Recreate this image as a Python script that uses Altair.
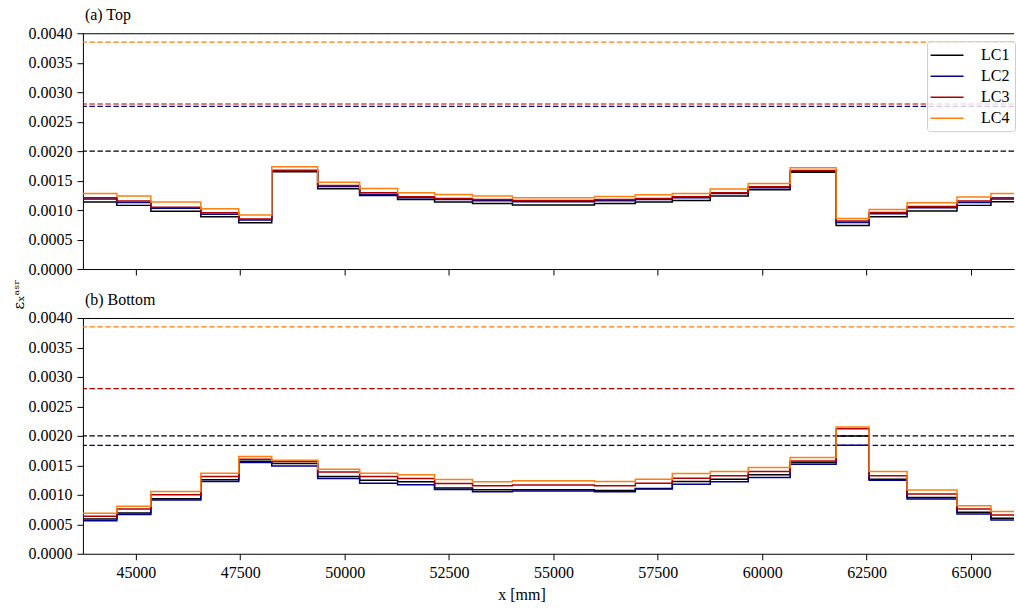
import altair as alt
import pandas as pd

# segment edges along x [mm]
edges = [43732, 44545, 45359, 46555, 47464, 48254, 49354, 50359, 51268, 52153, 53062, 54019,
         55981, 56962, 57847, 58756, 59665, 60670, 61770, 62560, 63469, 64665, 65478, 66290]

series = ["LC1", "LC2", "LC3", "LC4"]
colors = ["#000000", "#00008B", "#B00000", "#FF7F0E"]

# (a) Top: one value per segment
top_lc1 = [0.001136, 0.00108, 0.00098, 0.000887, 0.000785, 0.00165, 0.00136, 0.001249, 0.00118, 0.001136,
           0.001113, 0.001085, 0.001113, 0.001136, 0.001164, 0.001237, 0.001345, 0.001644, 0.00074,
           0.000887, 0.000983, 0.00108, 0.00114]
top_lc2 = [0.00119, 0.00113, 0.00103, 0.00093, 0.00083, 0.00166, 0.00140, 0.001266, 0.00121, 0.00118,
           0.00116, 0.00114, 0.00116, 0.00118, 0.00121, 0.00128, 0.00138, 0.00166, 0.00079,
           0.00094, 0.00104, 0.00113, 0.00119]
top_lc3 = [0.00121, 0.001153, 0.00105, 0.000955, 0.000847, 0.001678, 0.001418, 0.001294, 0.001226, 0.001198,
           0.00118, 0.001164, 0.00118, 0.001198, 0.001226, 0.001294, 0.001395, 0.001672, 0.000814,
           0.00096, 0.001062, 0.001153, 0.001209]
top_lc4 = [0.001283, 0.001237, 0.001136, 0.001023, 0.000915, 0.001734, 0.001474, 0.001367, 0.001294, 0.001266,
           0.001237, 0.001209, 0.001232, 0.00126, 0.001283, 0.001356, 0.001452, 0.001717, 0.000859,
           0.001011, 0.001124, 0.00122, 0.001283]
top_limits = [0.0020, 0.00276, 0.0028, 0.00385]

# (b) Bottom
bot_lc1 = [0.000591, 0.000692, 0.000934, 0.001254, 0.00157, 0.00153, 0.001311, 0.001249, 0.00122, 0.001114,
           0.001086, 0.001086, 0.001075, 0.001109, 0.001227, 0.001266, 0.001339, 0.001547, 0.001997,
           0.001266, 0.000956, 0.000703, 0.000602]
bot_lc2 = [0.000562, 0.000664, 0.000911, 0.001226, 0.001547, 0.00149, 0.001277, 0.001198, 0.00117, 0.001092,
           0.001052, 0.001063, 0.001052, 0.001097, 0.001181, 0.00122, 0.001294, 0.001519, 0.00184,
           0.001249, 0.000928, 0.000675, 0.000574]
bot_lc3 = [0.000636, 0.00076, 0.001001, 0.001311, 0.001603, 0.001564, 0.001389, 0.001311, 0.001277, 0.001193,
           0.001153, 0.001165, 0.001153, 0.001198, 0.001283, 0.001322, 0.001396, 0.001575, 0.00212,
           0.001322, 0.001013, 0.00076, 0.000658]
bot_lc4 = [0.000686, 0.000805, 0.001058, 0.001367, 0.001649, 0.001586, 0.001435, 0.001367, 0.001339, 0.00126,
           0.00122, 0.001238, 0.001226, 0.001266, 0.001362, 0.001396, 0.001463, 0.001632, 0.002149,
           0.001396, 0.00108, 0.000816, 0.000715]
bot_limits = [0.0020, 0.00184, 0.0028, 0.00385]

x_ticks = [45000, 47500, 50000, 52500, 55000, 57500, 60000, 62500, 65000]
y_ticks = [0.0, 0.0005, 0.001, 0.0015, 0.002, 0.0025, 0.003, 0.0035, 0.004]

FONT = "Liberation Serif"
FS = 16
W, H = 932, 236


def step_frame(vals_list):
    rows = []
    for name, vals in zip(series, vals_list):
        for i, v in enumerate(vals):
            rows.append({"x": edges[i], "v": v, "series": name, "o": i})
        rows.append({"x": edges[-1], "v": vals[-1], "series": name, "o": len(vals)})
    return pd.DataFrame(rows)


def panel(vals_list, limits, title, top):
    df = step_frame(vals_list)
    lim = pd.DataFrame({"series": series, "v": limits})
    xscale = alt.Scale(domain=[43732, 66030], nice=False, zero=False)
    yscale = alt.Scale(domain=[0, 0.004], nice=False)
    cscale = alt.Scale(domain=series, range=colors)
    if top:
        xaxis = alt.Axis(values=x_ticks, labels=False, title=None, ticks=True)
        yaxis = alt.Axis(values=y_ticks, format=".4f", title="εₓᵃˢʳ", titleX=-56, titleY=261,
                         titleAngle=270, titleFontSize=15, titleFont="DejaVu Serif",
                         titleFontWeight="normal", titleBaseline="bottom", titleAlign="center")
        legend = alt.Legend(orient="none", legendX=845, legendY=8, title=None,
                            symbolType="M-2,0H2", symbolSize=272, symbolStrokeWidth=1.5,
                            symbolOffset=6, labelFont=FONT, labelFontSize=FS, labelOffset=25,
                            rowPadding=4, padding=5, fillColor="rgba(255,255,255,0.8)",
                            strokeColor="#cccccc", cornerRadius=3)
    else:
        xaxis = alt.Axis(values=x_ticks, format="d", title="x [mm]", titleFontWeight="normal",
                         titleFont=FONT, titleFontSize=FS, titlePadding=6, titleX=439,
                         titleAlign="center")
        yaxis = alt.Axis(values=y_ticks, format=".4f", title=None)
        legend = None
    lim_layer = alt.Chart(lim).mark_rule(strokeDash=[5.5, 2.5], strokeWidth=1.2).encode(
        y=alt.Y("v:Q", scale=yscale, axis=yaxis),
        color=alt.Color("series:N", scale=cscale, legend=legend),
    )
    lines = alt.Chart(df).mark_line(interpolate="step-after", strokeWidth=1.5, clip=True).encode(
        x=alt.X("x:Q", scale=xscale, axis=xaxis),
        y=alt.Y("v:Q", scale=yscale, axis=yaxis),
        color=alt.Color("series:N", scale=cscale, legend=legend),
        order="o:Q",
        detail="series:N",
    )
    topline = alt.Chart(pd.DataFrame({"a": [0]})).mark_rule(color="black", strokeWidth=1).encode(
        x=alt.value(0), x2=alt.value(W), y=alt.value(0.5)
    )
    return alt.layer(lim_layer, lines, topline).properties(
        width=W, height=H,
        title=alt.TitleParams(title, anchor="start", frame="group", font=FONT, fontSize=FS,
                              fontWeight="normal", offset=2, dx=2, color="black"),
    )


top = panel([top_lc1, top_lc2, top_lc3, top_lc4], top_limits, "(a) Top", True)
bottom = panel([bot_lc1, bot_lc2, bot_lc3, bot_lc4], bot_limits, "(b) Bottom", False)

chart = alt.vconcat(top, bottom, spacing=-18).resolve_legend(color="independent").properties(
    padding={"left": 12, "top": 7, "right": 0, "bottom": 0}
).configure_view(stroke=None).configure_axis(
    labelFont=FONT, labelFontSize=FS, labelColor="black", domainColor="black", tickColor="black",
    tickSize=6, tickWidth=1, domainWidth=1, labelPadding=5, grid=False, titleColor="black",
)

chart.save("out.html", embed_options={"renderer": "svg", "actions": False})
